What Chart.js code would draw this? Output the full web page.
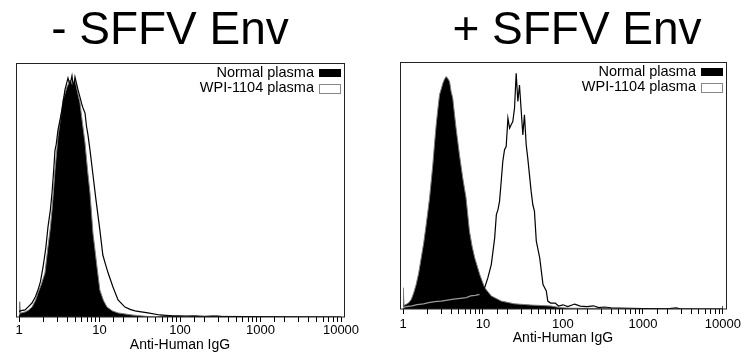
<!DOCTYPE html>
<html>
<head>
<meta charset="utf-8">
<script src="https://cdn.jsdelivr.net/npm/chart.js@4.4.1/dist/chart.umd.min.js"></script>
<style>
  body { margin: 0; background: #fff; }
  canvas { position: absolute; top: 0; }
  #left { left: 0; }
  #right { left: 372px; }
  .head {
    position: absolute; top: 5px; width: 340px;
    font: 46px/46px "Liberation Sans", Arial, Helvetica, sans-serif;
    color: #000; text-align: center; white-space: pre;
  }
  #headLeft { left: 0px; }
  #headRight { left: 407px; }
</style>
</head>
<body>
<canvas id="left" width="372" height="354"></canvas>
<canvas id="right" width="372" height="354"></canvas>
<div class="head" id="headLeft"></div>
<div class="head" id="headRight"></div>
<script>

const FONT = '"Liberation Sans", Arial, Helvetica, sans-serif';

// tick labels and legend names
const decadeLabels = [1, 10, 100, 1000, 10000];
const seriesNames = ['Normal plasma', 'WPI-1104 plasma'];
const panelTitles = ['- SFFV Env', '+ SFFV Env'];

// - SFFV Env : Normal plasma (filled)
const minusNormalX = [1.0, 1.02, 1.04, 1.19, 1.3, 1.45, 1.6, 1.72, 1.9, 2.1, 2.29, 2.45, 2.57, 2.7, 2.8, 3.05, 3.3, 3.52, 3.95, 4.15, 4.3, 4.6, 4.96, 5.3, 5.72, 6.1, 6.61, 7.1, 7.62, 8.3, 9.31, 10.1, 11.2, 12.4, 14.5, 17, 25.3, 36.7, 50, 60, 90, 120, 150, 200, 250, 300, 350, 10000];
const minusNormalY = [1, 6, 1.5, 2, 2.6, 3.9, 6.5, 9.4, 13, 17.3, 27.6, 35, 42, 51, 57.9, 70.9, 79, 85.4, 90.6, 92, 93.3, 91.5, 93.3, 89, 84.3, 77, 68.5, 58, 48.8, 33, 19.7, 10.6, 6.5, 3.9, 2.4, 1.6, 0.8, 0.3, 0, 0.4, 0.6, 0.3, 0.6, 0.2, 0.5, 0.5, 0, 0];

// - SFFV Env : WPI-1104 plasma (open)
const minusWpiX = [1.0, 1.03, 1.19, 1.3, 1.45, 1.6, 1.72, 1.85, 1.99, 2.15, 2.29, 2.45, 2.57, 2.7, 2.8, 2.9, 3.05, 3.42, 3.72, 4.06, 4.3, 4.55, 4.75, 4.96, 5.41, 5.72, 6.0, 6.24, 6.61, 6.9, 7.19, 7.62, 8.3, 9.05, 10.1, 11.0, 11.8, 12.8, 14.7, 17, 20.7, 24, 27.6, 33, 40, 56, 80, 177, 10000];
const minusWpiY = [2, 2.4, 2.8, 4, 5.5, 8, 10.6, 14, 19.7, 27, 35.4, 42, 48.8, 58, 65.7, 68, 73.6, 81.5, 89.4, 94.1, 91.3, 94.9, 90, 94.5, 89.4, 86.6, 84, 82.3, 80.3, 75, 71.7, 65.7, 55.9, 46, 34.3, 24.4, 21, 17.3, 11.8, 6.7, 3.9, 3, 2.4, 2, 1.6, 0.8, 0.5, 0.3, 0];

// + SFFV Env : Normal plasma (filled)
const plusNormalX = [1.0, 1.005, 1.03, 1.1, 1.18, 1.27, 1.36, 1.46, 1.57, 1.69, 1.82, 1.95, 2.15, 2.36, 2.48, 2.6, 2.73, 2.86, 3.0, 3.15, 3.3, 3.46, 3.6, 3.82, 4.0, 4.19, 4.4, 4.61, 5.08, 5.59, 6.14, 6.77, 7.3, 7.88, 9.1, 10.5, 12.7, 16.9, 24.8, 40, 55, 71, 90, 120, 10000];
const plusNormalY = [0, 8.6, 1.5, 1.9, 2.5, 3.9, 6.5, 9.9, 14.5, 20.7, 27, 34.2, 45, 58.4, 67, 74.6, 81, 86.7, 89, 91.4, 93, 94.1, 93.5, 92.1, 88, 85.3, 79, 73.2, 62.4, 53, 45, 31.6, 25.5, 20.7, 14, 8.6, 5.3, 3.2, 2.1, 1.6, 1.4, 1.2, 0.6, 0.3, 0];

// + SFFV Env : WPI-1104 plasma (open)
const plusWpiX = [1.0, 1.1, 1.3, 1.5, 1.8, 2.1, 2.5, 3.0, 3.6, 4.3, 5.2, 6.2, 7.0, 8.0, 9.1, 10.5, 11.5, 12.7, 13.3, 14.0, 14.7, 15.4, 16.1, 16.9, 17.7, 18.6, 19.5, 20.5, 21.5, 22.5, 23.6, 24.8, 26.0, 27.3, 28.6, 30.1, 31.5, 33.0, 34.7, 36.3, 40, 42, 44, 46.4, 51.2, 56.3, 61.9, 64.6, 70, 80, 88, 100, 115, 140, 165, 200, 240, 280, 330, 400, 500, 700, 1000, 2000, 2600, 3000, 9800, 10000];
const plusWpiY = [0.5, 1, 1.3, 1.8, 2.1, 2.6, 3, 3.2, 3.6, 4, 4.3, 4.6, 5.3, 5.5, 5.9, 8.6, 12.6, 18, 23, 28.8, 38.2, 40.2, 43.6, 51.7, 59.8, 64.5, 65.8, 77.3, 73.2, 74.6, 75.9, 81.3, 95.4, 84, 90.7, 80, 70.5, 78.6, 66.5, 61.1, 47.7, 42.2, 39.6, 27.5, 20.7, 9.9, 7.3, 3.2, 2.4, 2.4, 1.2, 1.7, 1, 2, 1.2, 1, 1.3, 0.6, 0.8, 0.5, 0.4, 0.3, 0.2, 0.1, 0.5, 0, 0, 1.2];

const toPoints = (xs, ys) => xs.map((x, i) => ({ x: x, y: ys[i] }));

document.getElementById('headLeft').textContent = panelTitles[0];
document.getElementById('headRight').textContent = panelTitles[1];

// box around the plot and the legend inside the top right corner
const framePlugin = {
    id: 'frame',
    afterDatasetsDraw(chart) {
        const { ctx, chartArea: a } = chart;
        ctx.save();
        ctx.strokeStyle = '#222';
        ctx.lineWidth = 1;
        ctx.strokeRect(Math.round(a.left) - 2.5, Math.round(a.top) + 0.5,
            Math.round(a.right - a.left) + 6, Math.round(a.bottom - a.top) - 0.5);

        ctx.font = '14.5px ' + FONT;
        ctx.textAlign = 'right';
        ctx.textBaseline = 'middle';
        const boxRight = Math.round(a.right);
        seriesNames.forEach((name, i) => {
            const top = Math.round(a.top) + 6 + i * 15;
            ctx.fillStyle = '#000';
            ctx.fillText(name, boxRight - 27, top + 4);
            if (i === 0) {
                ctx.fillRect(boxRight - 22, top, 22, 8);
            } else {
                ctx.fillStyle = '#fff';
                ctx.fillRect(boxRight - 22, top, 22, 9);
                ctx.strokeStyle = '#888';
                ctx.strokeRect(boxRight - 21.5, top + 0.5, 21, 9);
            }
        });
        ctx.restore();
    }
};

const createPanel = (elementId, normalPts, wpiPts, opts) => {
    const ctx = document.getElementById(elementId).getContext('2d');
    return new Chart(ctx, {
        type: 'line',
        data: {
            datasets: [{
                label: seriesNames[1],
                data: wpiPts,
                borderColor: '#000',
                borderWidth: 1.2,
                fill: false,
                segment: {
                    borderColor: c => (opts.grayBelow && c.p1.parsed.x < opts.grayBelow) ? '#9a9a9a' : '#000'
                }
            }, {
                label: seriesNames[0],
                data: normalPts,
                borderColor: '#7a7a7a',
                borderWidth: 1,
                backgroundColor: '#000',
                fill: 'origin'
            }]
        },
        options: {
            responsive: false,
            animation: false,
            devicePixelRatio: 1,
            elements: { point: { radius: 0 }, line: { tension: 0 } },
            layout: { padding: { left: opts.padLeft, right: opts.padRight, top: opts.padTop, bottom: 0 } },
            scales: {
                x: {
                    type: 'logarithmic',
                    min: 1,
                    max: 10000,
                    border: { display: false },
                    grid: { drawOnChartArea: false, drawTicks: true, tickLength: 5, tickColor: '#000', color: '#000' },
                    ticks: {
                        autoSkip: false,
                        maxRotation: 0,
                        padding: opts.tickPad,
                        color: '#000',
                        font: { size: 13, family: FONT },
                        callback: v => decadeLabels.includes(Math.round(v)) && Math.abs(v - Math.round(v)) < 1e-6 ? String(Math.round(v)) : ''
                    },
                    title: {
                        display: true,
                        text: 'Anti-Human IgG',
                        color: '#000',
                        font: { size: 14, family: FONT },
                        padding: { top: 0, bottom: opts.titlePad }
                    },
                    afterFit: s => { s.height = opts.axisHeight; }
                },
                y: { display: false, min: 0, max: 100 }
            },
            plugins: {
                legend: { display: false },
                tooltip: { enabled: false },
                title: { display: false }
            }
        },
        plugins: [framePlugin]
    });
};

createPanel('left',
    toPoints(minusNormalX, minusNormalY), toPoints(minusWpiX, minusWpiY),
    { padLeft: 19, padRight: 31, padTop: 63, axisHeight: 37, tickPad: 1, titlePad: 0, grayBelow: 0 });

createPanel('right',
    toPoints(plusNormalX, plusNormalY), toPoints(plusWpiX, plusWpiY),
    { padLeft: 31, padRight: 20, padTop: 62, axisHeight: 45, tickPad: 3, titlePad: 7, grayBelow: 9.5 });

</script>
</body>
</html>
